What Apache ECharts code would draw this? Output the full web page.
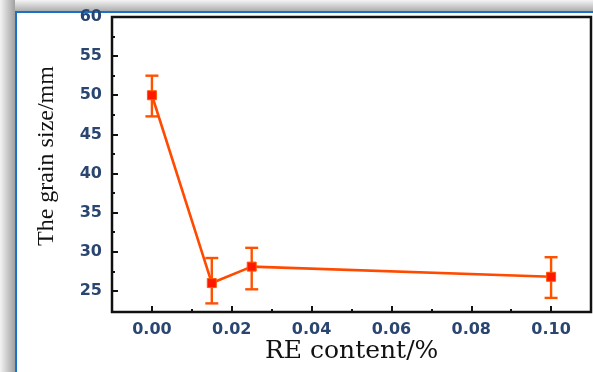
<!DOCTYPE html>
<html>
<head>
<meta charset="utf-8">
<script src="https://cdn.jsdelivr.net/npm/echarts@6/dist/echarts.min.js"></script>
<style>
html,body{margin:0;padding:0;background:#fff;}
#chart{width:593px;height:372px;}
</style>
</head>
<body>
<div id="chart"></div>
<script>
// RE content (%) vs grain size (mm)
var reContent = [0.000, 0.015, 0.025, 0.100];
var grainSize = [50.0, 26.0, 28.1, 26.8];
var errLow = [47.3, 23.4, 25.2, 24.1];
var errHigh = [52.5, 29.2, 30.5, 29.3];

var xMajor = [0.00, 0.02, 0.04, 0.06, 0.08, 0.10];
var xMinor = [0.01, 0.03, 0.05, 0.07, 0.09];
var yMajor = [25, 30, 35, 40, 45, 50, 55, 60];
var yMinor = [27.5, 32.5, 37.5, 42.5, 47.5, 52.5, 57.5];

var X_MIN = -0.01, X_MAX = 0.11, Y_MIN = 22.3, Y_MAX = 60;

var lineData = reContent.map(function (x, i) { return [x, grainSize[i]]; });
var errData = reContent.map(function (x, i) { return [x, errLow[i], errHigh[i]]; });

var labelColor = '#2a4670';

function xAxisDef(ticks, len, showLabel) {
    return {
        type: 'value', min: X_MIN, max: X_MAX, position: 'bottom',
        axisLine: { show: false, onZero: false },
        splitLine: { show: false },
        axisTick: { inside: true, length: len, customValues: ticks, lineStyle: { color: '#111', width: 2 } },
        axisLabel: {
            show: showLabel, customValues: ticks, margin: 10,
            color: labelColor, fontFamily: 'DejaVu Sans', fontWeight: 'bold', fontSize: 16,
            formatter: function (v) { return v.toFixed(2); }
        }
    };
}
function yAxisDef(ticks, len, showLabel) {
    return {
        type: 'value', min: Y_MIN, max: Y_MAX, position: 'left',
        axisLine: { show: false, onZero: false },
        splitLine: { show: false },
        axisTick: { inside: true, length: len, customValues: ticks, lineStyle: { color: '#111', width: 2 } },
        axisLabel: {
            show: showLabel, customValues: ticks, margin: 10,
            color: labelColor, fontFamily: 'DejaVu Sans', fontWeight: 'bold', fontSize: 16,
            formatter: function (v) { return String(Math.round(v)); }
        }
    };
}

var chart = echarts.init(document.getElementById('chart'));
chart.setOption({
    backgroundColor: '#fff',
    animation: false,
    graphic: [
        // window-like frame around the figure
        { type: 'rect', shape: { x: 0, y: 0, width: 593, height: 12 },
          style: { fill: new echarts.graphic.LinearGradient(0, 0, 0, 1, [{ offset: 0, color: '#f4f4f4' }, { offset: 1, color: '#a8a8a8' }]) }, z: -1 },
        { type: 'rect', shape: { x: 0, y: 0, width: 15, height: 372 },
          style: { fill: new echarts.graphic.LinearGradient(0, 0, 1, 0, [{ offset: 0, color: '#f4f4f4' }, { offset: 1, color: '#a0a0a0' }]) }, z: -1 },
        { type: 'rect', shape: { x: 15, y: 11, width: 578, height: 2 }, style: { fill: '#1b72c4' }, z: 0 },
        { type: 'rect', shape: { x: 15, y: 11, width: 2, height: 361 }, style: { fill: '#1b72c4' }, z: 0 },
        { type: 'text', left: 265, top: 339,
          style: { text: 'RE content/%', font: '25px "DejaVu Serif"', fill: '#111' } },
        { type: 'text', x: 35, y: 246, rotation: Math.PI / 2,
          style: { text: 'The grain size/mm', font: '24px "Liberation Serif"', fill: '#111' } }
    ],
    grid: {
        left: 112, top: 17, right: 2, bottom: 60,
        show: true, borderColor: '#111', borderWidth: 2.5, backgroundColor: 'transparent'
    },
    xAxis: [xAxisDef(xMajor, 6, true), xAxisDef(xMinor, 3, false)],
    yAxis: [yAxisDef(yMajor, 6, true), yAxisDef(yMinor, 3, false)],
    series: [
        {
            type: 'custom',
            xAxisIndex: 0, yAxisIndex: 0,
            data: errData,
            z: 3,
            renderItem: function (params, api) {
                var top = api.coord([api.value(0), api.value(2)]);
                var bot = api.coord([api.value(0), api.value(1)]);
                var cap = 6.5;
                var st = { stroke: '#ff5200', lineWidth: 2.4 };
                return {
                    type: 'group',
                    children: [
                        { type: 'line', shape: { x1: top[0], y1: top[1], x2: bot[0], y2: bot[1] }, style: st },
                        { type: 'line', shape: { x1: top[0] - cap, y1: top[1], x2: top[0] + cap, y2: top[1] }, style: st },
                        { type: 'line', shape: { x1: bot[0] - cap, y1: bot[1], x2: bot[0] + cap, y2: bot[1] }, style: st }
                    ]
                };
            }
        },
        {
            type: 'line',
            xAxisIndex: 0, yAxisIndex: 0,
            data: lineData,
            z: 4,
            symbol: 'rect',
            symbolSize: 9,
            lineStyle: { color: '#ff4a00', width: 2.6 },
            itemStyle: { color: '#ff1800', borderColor: '#ff5a00', borderWidth: 1 }
        }
    ]
});
</script>
</body>
</html>
